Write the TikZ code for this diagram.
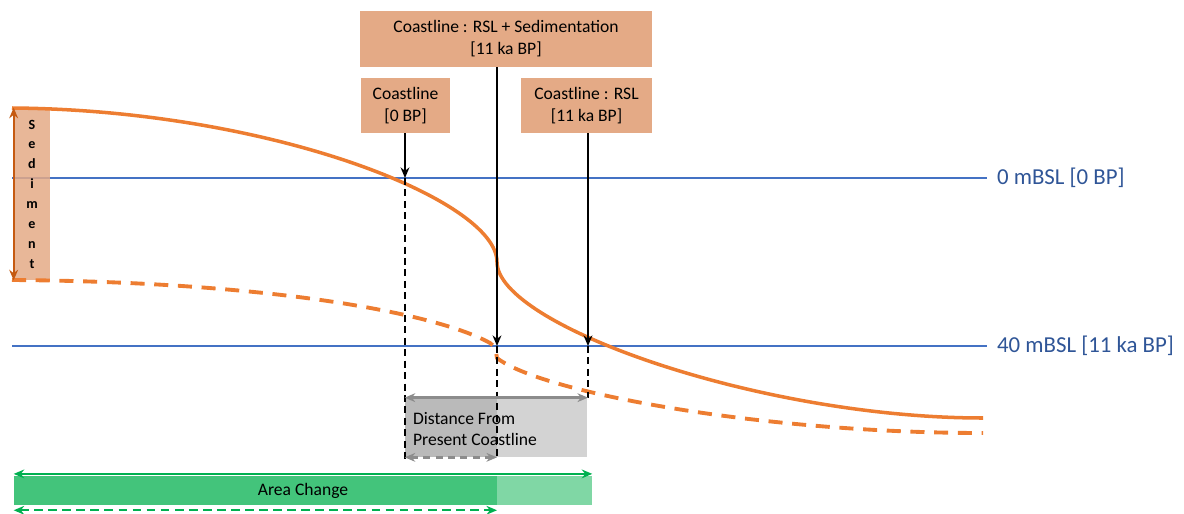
\documentclass[tikz,border=0pt]{standalone}
\usepackage{fontspec}
\setmainfont{Carlito}
\usetikzlibrary{arrows.meta,calc}

\definecolor{curveorange}{HTML}{ED7D31}
\definecolor{darkorange}{HTML}{C55A11}
\definecolor{peach}{HTML}{E4AA86}
\definecolor{seablue}{HTML}{4472C4}
\definecolor{labelblue}{HTML}{2F5597}
\definecolor{areagreen}{HTML}{00B050}
\definecolor{areadark}{HTML}{43C47B}
\definecolor{arealight}{HTML}{80D7A5}
\definecolor{distlight}{HTML}{D3D3D3}
\definecolor{distdark}{HTML}{BABABA}
\definecolor{arrowgrey}{HTML}{8C8C8C}

\begin{document}
\begin{tikzpicture}[x=0.02cm, y=-0.02cm, >={Stealth[length=6pt,width=5pt]},
    labelbox/.style={fill=peach, align=center, font=\fontsize{10}{12.5}\selectfont, inner sep=0pt},
    sealine/.style={seablue, line width=1.4pt},
    sealabel/.style={right, labelblue, font=\fontsize{13}{15}\selectfont, inner sep=5pt},
    coastarrow/.style={->, line width=1.4pt},
    dropline/.style={dash pattern=on 4pt off 2.5pt, line width=0.7pt}]
    \useasboundingbox (0,0) rectangle (1184,514);

    % sea levels
    \coordinate (sea0w) at (12,178);
    \coordinate (sea0e) at (987,178);
    \coordinate (sea40w) at (12,346);
    \coordinate (sea40e) at (987,346);
    \draw[sealine] (sea0w) -- (sea0e) node[sealabel] (sea0lab) {0 mBSL [0 BP]};
    \draw[sealine] (sea40w) -- (sea40e) node[sealabel] (sea40lab) {40 mBSL [11 ka BP]};

    % sediment column
    \node[fill=peach, fill opacity=0.85, text opacity=1, minimum width=0.72cm, minimum height=3.44cm, inner sep=0pt,
      align=center, font=\bfseries\fontsize{8}{11.3}\selectfont] (sed) at (32,194) {S\\e\\d\\i\\m\\e\\n\\t};

    % profiles
    \draw[curveorange, line width=2pt] (12,108) .. controls (270,110) and (497,200) .. (497,262)
      .. controls (497,325) and (760,418) .. (983,418);
    \draw[curveorange, line width=2.2pt, dash pattern=on 8pt off 5.5pt] (12,280) .. controls (280,282) and (440,315) .. (490,343)
      .. controls (495,347) .. (497,358) .. controls (540,392) and (760,433) .. (983,433);
    \draw[<->, darkorange, line width=1.2pt] (sed.north west) -- (sed.south west);

    % coastline labels
    \node[labelbox, minimum width=5.84cm, minimum height=1.12cm] (rslsed) at (506,39) {Coastline : RSL + Sedimentation\\{}[11 ka BP]};
    \node[labelbox, minimum width=1.78cm, minimum height=1.1cm] (coast0) at (405.5,105.5) {Coastline\\{}[0 BP]};
    \node[labelbox, minimum width=2.62cm, minimum height=1.1cm] (coastrsl) at (586.5,105.5) {Coastline : RSL\\{}[11 ka BP]};

    \coordinate (p0) at (405,178);
    \coordinate (p1) at (497,346);
    \coordinate (p2) at (588,346);
    \draw[coastarrow] (coast0.south -| p0) -- (p0);
    \draw[coastarrow] (rslsed.south -| p1) -- (p1);
    \draw[coastarrow] (coastrsl.south -| p2) -- (p2);

    % distance box
    \node[fill=distlight, minimum width=3.64cm, minimum height=1.18cm, inner sep=0pt] (dist) at (496,427.5) {};
    \fill[distdark] (dist.north west) rectangle (dist.south -| p1);
    \node[anchor=west, align=left, font=\fontsize{10}{12.5}\selectfont, inner sep=0pt] (disttext)
      at ($(dist.west)+(8,1.5)$) {Distance From\\Present Coastline};
    \draw[dropline] (p0) -- ([yshift=-1.5pt]dist.south -| p0);
    \draw[dropline] (p1) -- ([yshift=-1.5pt]dist.south -| p1);
    \draw[dropline] (p2) -- (dist.north -| p2);
    \draw[<->, arrowgrey, line width=1.4pt] (dist.north west) -- (dist.north -| p2);
    \draw[<->, arrowgrey, line width=1.4pt, dash pattern=on 4pt off 3pt] (dist.south west) -- (dist.south -| p1);

    % area change
    \node[fill=arealight, minimum width=11.56cm, minimum height=0.58cm, inner sep=0pt] (area) at (303,490.5) {};
    \fill[areadark] (area.north west) rectangle (area.south -| p1);
    \node[font=\fontsize{10}{12}\selectfont] (areatext) at (area.center) {Area Change};
    \draw[<->, areagreen, line width=1.2pt] ([yshift=1pt]area.north west) -- ([yshift=1pt]area.north east);
    \draw[<->, areagreen, line width=1.2pt, dash pattern=on 5pt off 3pt] ([yshift=-2.8pt]area.south west)
      -- ([yshift=-2.8pt]area.south -| p1);
\end{tikzpicture}
\end{document}
